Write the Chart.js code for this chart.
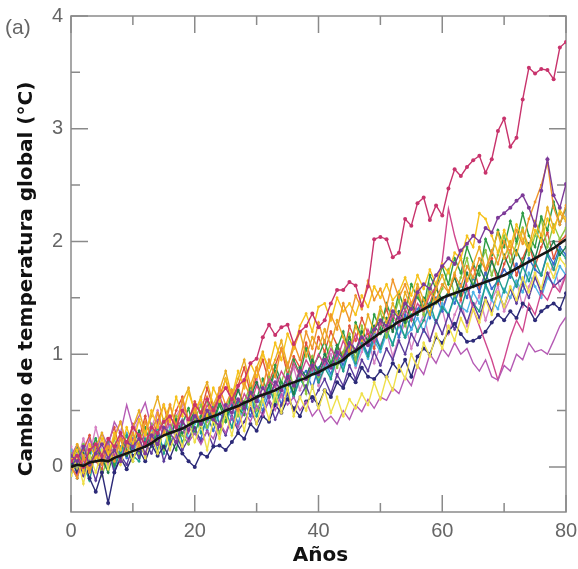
<!DOCTYPE html>
<html>
<head>
<meta charset="utf-8">
<script src="https://cdn.jsdelivr.net/npm/chart.js@4"></script>
<style>
  html, body { margin: 0; padding: 0; background: #fff; }
  #wrap { width: 578px; height: 569px; }
</style>
</head>
<body>
<div id="wrap"><canvas id="chart"></canvas></div>
<script>
// Years since start of the run
const years = [
  0, 1, 2, 3, 4, 5, 6, 7, 8, 9, 10, 11, 12, 13, 14, 15, 16, 17, 18, 19, 20,
  21, 22, 23, 24, 25, 26, 27, 28, 29, 30, 31, 32, 33, 34, 35, 36, 37, 38, 39, 40,
  41, 42, 43, 44, 45, 46, 47, 48, 49, 50, 51, 52, 53, 54, 55, 56, 57, 58, 59, 60,
  61, 62, 63, 64, 65, 66, 67, 68, 69, 70, 71, 72, 73, 74, 75, 76, 77, 78, 79, 80
];

const xTicks = [0, 20, 40, 60, 80];
const xMinorTicks = [10, 30, 50, 70];
const yTicks = [0, 1, 2, 3, 4];
const yMinorTicks = [0.5, 1.5, 2.5, 3.5];

// Ensemble mean (black)
const meanRun = [
  0.00, 0.02, 0.01, 0.04, 0.05, 0.06, 0.05, 0.08, 0.10, 0.12, 0.14,
  0.16, 0.18, 0.21, 0.25, 0.28, 0.30, 0.32, 0.34, 0.37, 0.40,
  0.41, 0.43, 0.45, 0.47, 0.50, 0.52, 0.54, 0.57, 0.59, 0.62,
  0.64, 0.66, 0.68, 0.71, 0.73, 0.75, 0.77, 0.79, 0.82, 0.84,
  0.87, 0.90, 0.92, 0.95, 1.00, 1.03, 1.07, 1.11, 1.15, 1.19,
  1.22, 1.25, 1.29, 1.31, 1.34, 1.37, 1.40, 1.43, 1.46, 1.50,
  1.52, 1.54, 1.56, 1.58, 1.60, 1.62, 1.64, 1.66, 1.68, 1.70,
  1.73, 1.76, 1.79, 1.82, 1.85, 1.88, 1.91, 1.94, 1.98, 2.02
];

// Individual model runs
const runMagenta = [
  0.05, 0.10, 0.00, 0.15, 0.20, 0.10, 0.25, 0.18, 0.30, 0.22, 0.35,
  0.28, 0.20, 0.35, 0.30, 0.40, 0.45, 0.35, 0.50, 0.42, 0.55,
  0.48, 0.60, 0.50, 0.62, 0.70, 0.60, 0.72, 0.77, 0.92, 0.96,
  1.15, 1.26, 1.17, 1.24, 1.26, 1.09, 1.20, 1.25, 1.36, 1.24,
  1.30, 1.45, 1.57, 1.57, 1.64, 1.61, 1.43, 1.60, 2.02, 2.04,
  2.02, 1.86, 1.90, 2.20, 2.14, 2.34, 2.39, 2.19, 2.32, 2.23,
  2.47, 2.64, 2.58, 2.66, 2.72, 2.76, 2.61, 2.73, 2.98, 3.09,
  2.84, 2.92, 3.26, 3.54, 3.49, 3.53, 3.52, 3.44, 3.72, 3.77
];
const runPurple = [
  0.10, 0.05, 0.18, 0.02, 0.12, 0.20, 0.08, 0.15, 0.05, 0.22, 0.18,
  0.25, 0.12, 0.28, 0.20, 0.35, 0.30, 0.22, 0.40, 0.33, 0.45,
  0.38, 0.50, 0.42, 0.36, 0.55, 0.48, 0.60, 0.52, 0.66, 0.58,
  0.70, 0.62, 0.75, 0.68, 0.80, 0.72, 0.85, 0.78, 0.90, 0.82,
  0.95, 0.88, 1.02, 0.96, 1.10, 1.04, 1.15, 1.08, 1.22, 1.30,
  1.25, 1.38, 1.32, 1.45, 1.40, 1.55, 1.62, 1.58, 1.70, 1.78,
  1.85, 1.80, 1.92, 1.98, 2.05, 2.00, 2.12, 2.08, 2.21, 2.25,
  2.30, 2.36, 2.41, 2.30, 2.14, 2.45, 2.73, 2.41, 2.30, 2.51
];
const runOrange = [
  0.00, -0.10, 0.08, -0.05, 0.12, 0.02, 0.18, 0.05, 0.25, 0.12, 0.30,
  0.18, 0.40, 0.25, 0.48, 0.30, 0.55, 0.35, 0.60, 0.42, 0.52,
  0.38, 0.62, 0.45, 0.70, 0.55, 0.68, 0.50, 0.75, 0.62, 0.88,
  0.70, 0.95, 0.80, 1.05, 0.88, 1.10, 0.95, 1.20, 1.05, 1.28,
  1.10, 1.35, 1.22, 1.45, 1.30, 1.52, 1.40, 1.65, 1.48, 1.58,
  1.42, 1.66, 1.50, 1.62, 1.45, 1.58, 1.40, 1.55, 1.48, 1.62,
  1.55, 1.70, 1.60, 1.78, 1.68, 1.85, 1.75, 1.92, 1.80, 2.00,
  1.90, 2.10, 1.98, 2.20, 2.35, 2.50, 2.70, 2.30, 2.15, 2.32
];
const runGold = [
  0.05, 0.15, -0.05, 0.20, 0.08, 0.25, 0.10, 0.30, 0.15, 0.35, 0.20,
  0.42, 0.28, 0.50, 0.35, 0.55, 0.40, 0.62, 0.45, 0.66, 0.50,
  0.60, 0.45, 0.70, 0.58, 0.78, 0.62, 0.85, 0.70, 0.92, 0.80,
  1.00, 0.88, 1.10, 0.95, 1.18, 1.05, 1.25, 1.36, 1.20, 1.42,
  1.45, 1.30, 1.50, 1.38, 1.45, 1.35, 1.52, 1.42, 1.60, 1.50,
  1.62, 1.48, 1.55, 1.68, 1.52, 1.70, 1.58, 1.75, 1.62, 1.80,
  1.72, 1.90, 1.85, 2.05, 1.95, 2.25, 2.20, 2.05, 1.90, 2.10,
  1.95, 2.15, 2.02, 1.92, 2.10, 2.00, 2.20, 2.08, 2.28, 2.20
];
const runAmber = [
  0.05, 0.20, 0.10, -0.02, 0.18, 0.30, 0.12, 0.25, 0.40, 0.20, 0.35,
  0.50, 0.30, 0.45, 0.62, 0.40, 0.55, 0.35, 0.58, 0.70, 0.48,
  0.62, 0.75, 0.55, 0.68, 0.85, 0.62, 0.78, 0.95, 0.72, 0.88,
  1.02, 0.82, 0.95, 1.12, 0.90, 1.05, 1.20, 0.98, 1.15, 1.05,
  1.22, 1.08, 1.30, 1.15, 1.02, 1.25, 1.12, 1.35, 1.20, 1.42,
  1.28, 1.45, 1.32, 1.55, 1.40, 1.62, 1.48, 1.35, 1.58, 1.70,
  1.55, 1.72, 1.85, 1.65, 1.80, 1.95, 1.75, 1.90, 2.08, 1.85,
  2.00, 1.88, 2.10, 1.95, 2.18, 2.05, 2.30, 2.12, 2.25, 2.18
];
const runYellow = [
  -0.08, 0.08, -0.15, 0.10, -0.05, 0.15, -0.02, 0.20, 0.02, 0.22, 0.05,
  0.25, 0.08, 0.30, 0.12, 0.35, 0.15, 0.32, 0.18, 0.40, 0.22,
  0.38, 0.15, 0.42, 0.25, 0.48, 0.28, 0.52, 0.32, 0.58, 0.38,
  0.60, 0.42, 0.65, 0.48, 0.70, 0.45, 0.62, 0.50, 0.72, 0.52,
  0.68, 0.48, 0.62, 0.45, 0.60, 0.52, 0.65, 0.55, 0.75, 0.60,
  0.80, 0.68, 0.90, 0.78, 1.00, 0.88, 1.10, 0.98, 1.18, 1.05,
  1.25, 1.12, 1.32, 1.20, 1.40, 1.28, 1.48, 1.35, 1.55, 1.42,
  1.60, 1.48, 1.68, 1.55, 1.72, 1.58, 1.80, 1.68, 1.85, 1.78
];
const runViolet = [
  0.10, 0.20, 0.05, 0.25, 0.12, 0.30, 0.18, 0.40, 0.30, 0.55, 0.35,
  0.45, 0.57, 0.35, 0.42, 0.30, 0.38, 0.25, 0.35, 0.22, 0.30,
  0.20, 0.32, 0.25, 0.40, 0.30, 0.45, 0.35, 0.50, 0.40, 0.55,
  0.45, 0.60, 0.50, 0.65, 0.55, 0.62, 0.50, 0.58, 0.45, 0.52,
  0.40, 0.45, 0.38, 0.50, 0.42, 0.55, 0.49, 0.60, 0.52, 0.62,
  0.59, 0.70, 0.65, 0.80, 0.72, 0.90, 0.82, 1.00, 0.92, 1.05,
  0.98, 1.10, 1.00, 1.05, 0.92, 0.85, 0.95, 0.80, 0.77, 0.90,
  0.85, 1.00, 0.95, 1.10, 1.02, 1.04, 1.00, 1.12, 1.25, 1.33
];
const runPink = [
  0.00, -0.08, 0.10, -0.02, 0.15, 0.05, 0.20, 0.10, 0.28, 0.18, 0.25,
  0.15, 0.30, 0.22, 0.38, 0.28, 0.45, 0.35, 0.42, 0.30, 0.48,
  0.40, 0.55, 0.45, 0.62, 0.50, 0.58, 0.48, 0.65, 0.55, 0.72,
  0.62, 0.78, 0.70, 0.85, 0.75, 0.92, 0.80, 0.95, 0.85, 1.00,
  0.90, 1.05, 0.95, 1.12, 1.00, 1.18, 1.05, 1.22, 1.10, 1.28,
  1.20, 1.35, 1.25, 1.40, 1.30, 1.45, 1.38, 1.52, 1.60, 1.83,
  2.29, 2.05, 1.86, 1.60, 1.40, 1.25, 1.10, 0.95, 0.77, 0.95,
  1.15, 1.30, 1.20, 1.45, 1.35, 1.55, 1.48, 1.62, 1.55, 1.70
];
const runNavy = [
  0.05, -0.05, 0.08, -0.10, -0.22, -0.05, -0.32, -0.05, 0.08, -0.02, 0.10,
  0.15, 0.05, 0.20, 0.10, 0.18, 0.08, 0.22, 0.12, 0.05, 0.00,
  0.12, 0.09, 0.18, 0.19, 0.15, 0.22, 0.30, 0.25, 0.38, 0.32,
  0.45, 0.40, 0.55, 0.48, 0.60, 0.52, 0.45, 0.58, 0.62, 0.55,
  0.68, 0.62, 0.75, 0.70, 0.82, 0.75, 0.88, 0.80, 0.78, 0.85,
  0.80, 0.92, 0.85, 0.95, 0.80, 0.98, 1.05, 1.00, 1.15, 1.10,
  1.20, 1.27, 1.18, 1.11, 1.12, 1.15, 1.20, 1.28, 1.35, 1.30,
  1.38, 1.32, 1.45, 1.40, 1.30, 1.38, 1.42, 1.45, 1.40, 1.54
];
const runIndigo = [
  -0.02, 0.10, -0.08, 0.05, -0.12, 0.08, 0.15, -0.05, 0.10, 0.02, 0.18,
  0.08, 0.22, 0.12, 0.28, 0.05, 0.20, 0.30, 0.15, 0.25, 0.35,
  0.22, 0.32, 0.18, 0.38, 0.28, 0.45, 0.32, 0.40, 0.52, 0.38,
  0.48, 0.58, 0.42, 0.55, 0.65, 0.50, 0.62, 0.72, 0.58, 0.68,
  0.78, 0.65, 0.82, 0.72, 0.90, 0.78, 0.95, 0.85, 1.02, 0.90,
  1.05, 0.95, 1.12, 1.00, 1.18, 1.08, 1.22, 1.12, 1.30, 1.18,
  1.35, 1.22, 1.40, 1.28, 1.45, 1.32, 1.50, 1.38, 1.55, 1.42,
  1.58, 1.45, 1.62, 1.50, 1.68, 1.55, 1.72, 1.60, 1.65, 1.70
];
const runGreen = [
  0.05, 0.18, -0.02, 0.12, 0.25, 0.08, 0.20, 0.02, 0.28, 0.15, 0.05,
  0.22, 0.35, 0.18, 0.30, 0.42, 0.25, 0.15, 0.38, 0.52, 0.30,
  0.45, 0.60, 0.38, 0.55, 0.40, 0.68, 0.52, 0.46, 0.72, 0.60,
  0.78, 0.62, 0.90, 0.75, 0.68, 0.95, 0.82, 1.05, 0.88, 0.98,
  1.12, 0.92, 1.05, 1.20, 1.00, 1.28, 1.15, 1.08, 1.35, 1.22,
  1.45, 1.30, 1.55, 1.38, 1.62, 1.50, 1.42, 1.70, 1.58, 1.78,
  1.62, 1.85, 1.72, 1.95, 1.80, 1.70, 2.02, 1.88, 2.10, 1.95,
  2.18, 2.00, 2.25, 2.05, 1.95, 2.22, 2.10, 2.35, 2.15, 2.30
];
const runDarkGreen = [
  0.02, -0.10, 0.12, 0.00, 0.18, 0.08, -0.05, 0.15, 0.25, 0.10, 0.20,
  0.32, 0.18, 0.28, 0.12, 0.35, 0.25, 0.42, 0.30, 0.38, 0.50,
  0.35, 0.48, 0.40, 0.58, 0.45, 0.52, 0.68, 0.55, 0.62, 0.75,
  0.60, 0.72, 0.85, 0.70, 0.78, 0.65, 0.88, 0.80, 0.95, 0.85,
  1.00, 0.90, 1.08, 0.95, 1.15, 1.02, 1.20, 1.12, 1.25, 1.18,
  1.32, 1.20, 1.38, 1.28, 1.45, 1.35, 1.50, 1.42, 1.58, 1.48,
  1.55, 1.68, 1.52, 1.72, 1.60, 1.78, 1.65, 1.82, 1.70, 1.88,
  1.75, 1.92, 1.80, 1.98, 1.85, 2.05, 1.90, 2.00, 1.88, 1.95
];
const runLime = [
  0.12, -0.05, 0.20, 0.05, 0.15, -0.08, 0.10, 0.25, 0.05, 0.18, 0.30,
  0.12, 0.20, 0.38, 0.22, 0.15, 0.32, 0.45, 0.28, 0.20, 0.42,
  0.55, 0.35, 0.48, 0.30, 0.52, 0.65, 0.45, 0.58, 0.72, 0.50,
  0.62, 0.80, 0.58, 0.75, 0.92, 0.70, 0.85, 0.65, 0.98, 0.80,
  0.95, 1.10, 0.88, 1.02, 1.18, 0.95, 1.25, 1.08, 1.20, 1.38,
  1.15, 1.30, 1.48, 1.25, 1.40, 1.55, 1.35, 1.62, 1.45, 1.58,
  1.75, 1.52, 1.68, 1.85, 1.60, 1.78, 1.92, 1.70, 1.88, 2.05,
  1.82, 1.98, 2.12, 1.88, 2.05, 2.20, 1.95, 2.15, 2.02, 2.12
];
const runTeal = [
  -0.08, 0.10, 0.02, -0.12, 0.15, 0.05, 0.22, 0.00, 0.12, 0.28, 0.10,
  0.05, 0.25, 0.18, 0.35, 0.12, 0.28, 0.40, 0.22, 0.32, 0.48,
  0.30, 0.42, 0.55, 0.38, 0.50, 0.35, 0.58, 0.48, 0.65, 0.45,
  0.60, 0.72, 0.55, 0.68, 0.82, 0.62, 0.78, 0.70, 0.90, 0.75,
  0.88, 0.78, 0.98, 0.85, 1.05, 0.92, 1.10, 0.98, 1.15, 1.05,
  1.22, 1.08, 1.28, 1.15, 1.35, 1.20, 1.30, 1.45, 1.28, 1.42,
  1.35, 1.52, 1.40, 1.58, 1.45, 1.38, 1.62, 1.50, 1.68, 1.55,
  1.72, 1.60, 1.78, 1.65, 1.82, 1.70, 1.88, 1.75, 1.92, 1.85
];
const runCyan = [
  0.15, 0.02, 0.20, 0.08, 0.25, 0.12, -0.02, 0.18, 0.08, 0.30, 0.15,
  0.22, 0.10, 0.32, 0.25, 0.18, 0.35, 0.28, 0.42, 0.25, 0.38,
  0.45, 0.32, 0.50, 0.38, 0.55, 0.42, 0.36, 0.58, 0.50, 0.62,
  0.55, 0.68, 0.60, 0.75, 0.62, 0.72, 0.80, 0.68, 0.85, 0.78,
  0.92, 0.80, 0.95, 0.88, 1.02, 0.90, 1.08, 0.96, 1.12, 1.02,
  1.18, 1.10, 1.25, 1.15, 1.22, 1.32, 1.20, 1.38, 1.28, 1.45,
  1.35, 1.50, 1.42, 1.38, 1.55, 1.45, 1.60, 1.48, 1.40, 1.58,
  1.50, 1.65, 1.55, 1.72, 1.60, 1.50, 1.68, 1.62, 1.78, 1.70
];
const runBlue = [
  0.00, 0.15, -0.05, 0.10, 0.20, 0.02, 0.15, -0.02, 0.18, 0.08, 0.25,
  0.10, 0.20, 0.32, 0.15, 0.35, 0.22, 0.28, 0.18, 0.40, 0.30,
  0.25, 0.45, 0.32, 0.48, 0.40, 0.55, 0.38, 0.58, 0.45, 0.62,
  0.50, 0.65, 0.72, 0.55, 0.78, 0.62, 0.80, 0.85, 0.70, 0.88,
  0.95, 0.82, 1.00, 0.90, 1.08, 0.95, 1.12, 1.00, 1.20, 1.05,
  1.22, 1.30, 1.15, 1.35, 1.22, 1.40, 1.48, 1.32, 1.50, 1.38,
  1.55, 1.45, 1.62, 1.50, 1.68, 1.55, 1.72, 1.58, 1.65, 1.75,
  1.68, 1.80, 1.62, 1.85, 1.75, 1.70, 1.90, 1.80, 1.95, 1.88
];
const runRed = [
  0.10, -0.05, 0.15, 0.28, 0.05, -0.02, 0.22, 0.35, 0.12, 0.18, 0.38,
  0.25, 0.45, 0.22, 0.40, 0.55, 0.32, 0.50, 0.62, 0.40, 0.58,
  0.48, 0.70, 0.52, 0.62, 0.78, 0.55, 0.72, 0.88, 0.65, 0.80,
  0.95, 0.75, 0.90, 1.05, 0.82, 0.98, 0.88, 1.10, 0.92, 1.15,
  1.02, 1.20, 1.08, 0.98, 1.25, 1.12, 1.32, 1.18, 1.05, 1.28,
  1.40, 1.22, 1.35, 1.48, 1.30, 1.55, 1.38, 1.45, 1.62, 1.40,
  1.55, 1.70, 1.48, 1.65, 1.78, 1.58, 1.72, 1.85, 1.62, 1.80,
  1.92, 1.70, 1.85, 1.98, 1.78, 1.95, 2.08, 1.85, 2.00, 2.05
];
const runLilac = [
  0.18, 0.05, 0.25, 0.10, 0.35, 0.15, 0.02, 0.28, 0.40, 0.18, 0.30,
  0.42, 0.22, 0.35, 0.50, 0.30, 0.25, 0.45, 0.55, 0.35, 0.48,
  0.58, 0.40, 0.52, 0.65, 0.45, 0.60, 0.72, 0.50, 0.65, 0.78,
  0.58, 0.70, 0.82, 0.62, 0.75, 0.88, 0.68, 0.80, 0.95, 0.72,
  0.88, 1.00, 0.80, 0.95, 1.08, 0.88, 1.02, 1.15, 0.92, 1.08,
  1.20, 0.98, 1.15, 1.28, 1.05, 1.22, 1.35, 1.12, 1.28, 1.40,
  1.18, 1.35, 1.48, 1.25, 1.40, 1.52, 1.30, 1.48, 1.60, 1.38,
  1.50, 1.65, 1.42, 1.60, 1.72, 1.52, 1.68, 1.80, 1.58, 1.72
];

const runs = [
  { data: runMagenta, color: '#c8336c', dot: 2 },
  { data: runPurple, color: '#7d3a98', dot: 2 },
  { data: runOrange, color: '#f0962c', dot: 1.4 },
  { data: runGold, color: '#f6c21c', dot: 1.4 },
  { data: runAmber, color: '#e9ad22', dot: 1.4 },
  { data: runYellow, color: '#efe04a', dot: 1.4 },
  { data: runViolet, color: '#b55ab4', dot: 0 },
  { data: runPink, color: '#d0488e', dot: 0 },
  { data: runNavy, color: '#2c2a78', dot: 2 },
  { data: runIndigo, color: '#5b3c9c', dot: 1.4 },
  { data: runGreen, color: '#2e9c45', dot: 1.4 },
  { data: runDarkGreen, color: '#1e7d4c', dot: 1.4 },
  { data: runLime, color: '#8cc640', dot: 1.4 },
  { data: runTeal, color: '#1f9e8c', dot: 1.4 },
  { data: runCyan, color: '#4cb5e6', dot: 1.4 },
  { data: runBlue, color: '#3a6acd', dot: 1.4 },
  { data: runRed, color: '#e0533a', dot: 1.4 },
  { data: runLilac, color: '#d783c4', dot: 1.4 }
];

// frame, inward ticks on all four sides, titles
const frameTicks = {
  id: 'frameTicks',
  beforeDatasetsDraw(chart) {
    const { ctx, chartArea: a, scales: { x, y } } = chart;
    ctx.save();
    ctx.strokeStyle = '#8a8a8a';
    ctx.lineWidth = 1.5;
    ctx.strokeRect(a.left, a.top, a.right - a.left, a.bottom - a.top);
    const xtick = (list, len) => {
      list.forEach(v => {
        const px = x.getPixelForValue(v);
        ctx.moveTo(px, a.bottom); ctx.lineTo(px, a.bottom - len);
        ctx.moveTo(px, a.top); ctx.lineTo(px, a.top + len);
      });
    };
    const ytick = (list, len) => {
      list.forEach(v => {
        const py = y.getPixelForValue(v);
        ctx.moveTo(a.left, py); ctx.lineTo(a.left + len, py);
        ctx.moveTo(a.right, py); ctx.lineTo(a.right - len, py);
      });
    };
    ctx.beginPath();
    xtick(xTicks, 17);
    xtick(xMinorTicks, 9);
    ytick(yTicks, 17);
    ytick(yMinorTicks, 9);
    ctx.stroke();
    ctx.restore();
  },
  afterDraw(chart) {
    const { ctx, chartArea: a } = chart;
    ctx.save();
    ctx.fillStyle = '#111';
    ctx.font = 'bold 20px "DejaVu Sans"';
    ctx.textAlign = 'center';
    ctx.textBaseline = 'middle';
    ctx.fillText('Años', (a.left + a.right) / 2 + 2, 556);
    ctx.translate(27, 279);
    ctx.rotate(-Math.PI / 2);
    ctx.fillText('Cambio de temperatura global (°C)', 0, 0);
    ctx.restore();
    ctx.save();
    ctx.fillStyle = '#666';
    ctx.font = '21px "Liberation Sans"';
    ctx.textBaseline = 'middle';
    ctx.fillText('(a)', 5, 28);
    ctx.restore();
  }
};

const datasets = [{
  data: meanRun,
  borderColor: '#151515',
  borderWidth: 2.6,
  pointRadius: 0
}].concat(runs.map(r => ({
  data: r.data,
  borderColor: r.color,
  backgroundColor: r.color,
  borderWidth: 1.4,
  pointRadius: r.dot,
  pointBorderWidth: 0
})));

new Chart(document.getElementById('chart'), {
  type: 'line',
  data: { labels: years, datasets },
  options: {
    responsive: true,
    maintainAspectRatio: false,
    animation: false,
    layout: { padding: { top: 16, right: 12, left: 0, bottom: 0 } },
    plugins: { legend: { display: false }, tooltip: { enabled: false } },
    elements: { line: { tension: 0 } },
    scales: {
      x: {
        type: 'linear',
        min: 0,
        max: 80,
        afterBuildTicks: s => { s.ticks = xTicks.map(v => ({ value: v })); },
        afterFit: s => { s.height = 57; s.paddingLeft = 0; s.paddingRight = 0; },
        grid: { display: false, drawTicks: false },
        border: { display: false },
        ticks: { color: '#666', padding: 7, maxRotation: 0, font: { family: 'Liberation Sans', size: 20 } }
      },
      y: {
        min: -0.4,
        max: 4,
        afterBuildTicks: s => { s.ticks = yTicks.map(v => ({ value: v })); },
        afterFit: s => { s.width = 71; s.paddingTop = 0; s.paddingBottom = 0; },
        grid: { display: false, drawTicks: false },
        border: { display: false },
        ticks: { color: '#666', padding: 8, font: { family: 'Liberation Sans', size: 20 } }
      }
    }
  },
  plugins: [frameTicks]
});
</script>
</body>
</html>
